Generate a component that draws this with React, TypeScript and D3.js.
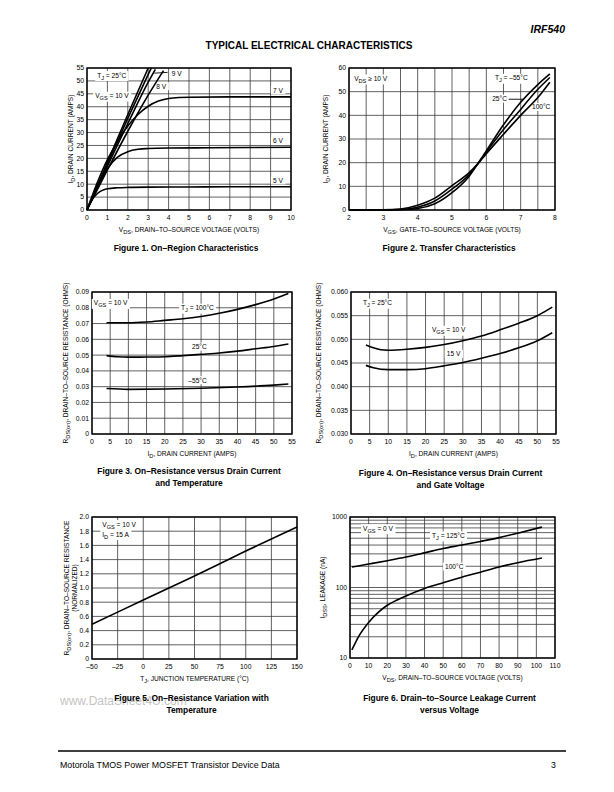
import React, { useRef, useState, useLayoutEffect } from 'react';
import * as d3 from 'd3';

const FONT = "'Liberation Sans', Arial, Helvetica, sans-serif";

// ---------- Figure 1: On-Region Characteristics (VDS volts, ID amps)
const f1Vgs5 = [[0,0],[0.25,4],[0.5,6.3],[0.75,7.6],[1,8.2],[1.5,8.6],[2,8.75],[3,8.85],[5,8.9],[7,9],[10,9]];
const f1Vgs6 = [[0,0],[0.5,9],[1,16],[1.5,20.5],[2,22.6],[2.5,23.5],[3,23.8],[4,24],[6,24.1],[10,24.3]];
const f1Vgs7 = [[0,0],[0.5,10.5],[1,19.5],[1.5,26.5],[2,32.5],[2.5,37],[3,40.2],[3.5,42.2],[4,43.2],[4.5,43.6],[5,43.7],[7,43.8],[10,43.8]];
const f1Vgs8 = [[0,0],[1,15.5],[2,30.5],[3,44.5],[3.75,54]];
const f1Vgs9 = [[0,0],[1,17],[2,33.5],[3,49.5],[3.35,54.5]];
const f1Vgs9b = [[0,0],[1,17.8],[2,35.5],[3,52.5],[3.15,55]];
const f1Vgs10 = [[0,0],[1,18.5],[2,37],[3,55]];
const f1Leader9 = [[3.3,53],[3.95,53.3]];

// ---------- Figure 2: Transfer Characteristics (VGS volts, ID amps)
const f2TjM55 = [[2,0],[3,0],[3.5,0.1],[4,0.6],[4.5,2.6],[5,7.3],[5.5,14.3],[5.75,19.5],[6,25],[6.5,36],[7,45.5],[7.5,53],[7.85,57.5]];
const f2Tj25 = [[2,0],[3,0],[3.5,0.2],[4,1.2],[4.5,3.8],[5,8.8],[5.5,15],[5.75,19.5],[6,24.5],[6.5,34],[7,42.5],[7.5,51],[7.85,56]];
const f2Tj100 = [[2,0],[3,0.05],[3.5,0.4],[4,2],[4.5,5],[5,10.3],[5.5,15.8],[5.75,19.5],[6,23.8],[6.5,32],[7,40],[7.5,47.5],[7.85,54]];
const f2Leader25 = [[6.65,46.8],[7.08,46.8]];

// ---------- Figure 3: RDS(on) vs ID and temperature
const f3Tj100 = [[4,0.0705],[10,0.0705],[15,0.071],[20,0.072],[25,0.073],[30,0.0745],[35,0.0765],[40,0.079],[45,0.082],[50,0.0855],[54,0.089]];
const f3Tj25 = [[4,0.0497],[7,0.049],[10,0.0487],[15,0.0488],[20,0.049],[25,0.0497],[30,0.0505],[35,0.0513],[40,0.0525],[45,0.054],[50,0.0555],[54,0.057]];
const f3TjM55 = [[4,0.0288],[10,0.0283],[20,0.0285],[30,0.029],[40,0.0298],[50,0.031],[54,0.0317]];

// ---------- Figure 4: RDS(on) vs ID and gate voltage
const f4Vgs10 = [[4,0.0488],[6,0.0482],[8,0.0478],[10,0.0477],[15,0.0479],[20,0.0483],[25,0.0489],[30,0.0497],[35,0.0507],[40,0.052],[45,0.0534],[50,0.055],[54,0.0568]];
const f4Vgs15 = [[4,0.0445],[6,0.044],[10,0.0436],[15,0.0436],[20,0.0438],[25,0.0444],[30,0.0451],[35,0.046],[40,0.047],[45,0.0482],[50,0.0497],[54,0.0514]];

// ---------- Figure 5: normalized RDS(on) vs TJ
const f5Line = [[-50,0.49],[0,0.83],[25,1.0],[50,1.17],[100,1.52],[150,1.86]];

// ---------- Figure 6: IDSS leakage vs VDS
const f6Tj125 = [[1,195],[10,215],[20,240],[30,270],[40,310],[50,358],[60,400],[70,450],[80,510],[90,590],[103,720]];
const f6Tj100 = [[1,13],[5,21],[10,32],[15,44],[20,56],[25,66],[30,76],[40,97],[50,117],[60,140],[70,165],[80,195],[90,225],[103,262]];

// ---------- tick labels
const f1XTicks = [0,1,2,3,4,5,6,7,8,9,10];
const f1YTicks = [0,5,10,15,20,25,30,35,40,45,50,55];
const f2XTicks = [2,3,4,5,6,7,8];
const f2XGrid = [2,2.5,3,3.5,4,4.5,5,5.5,6,6.5,7,7.5,8];
const f2YTicks = [0,10,20,30,40,50,60];
const f3XTicks = [0,5,10,15,20,25,30,35,40,45,50,55];
const f3YTicks = [0,0.01,0.02,0.03,0.04,0.05,0.06,0.07,0.08,0.09];
const f4YTicks = [0.03,0.035,0.04,0.045,0.05,0.055,0.06];
const f5XTicks = [-50,-25,0,25,50,75,100,125,150];
const f5YTicks = [0,0.2,0.4,0.6,0.8,1.0,1.2,1.4,1.6,1.8,2.0];
const f6XTicks = [0,10,20,30,40,50,60,70,80,90,100,110];
const f6YTicks = [10,100,1000];
const f6YGrid = [10,20,30,40,50,60,70,80,90,100,200,300,400,500,600,700,800,900,1000];

function rich(s: string, size: number) {
  const parts = s.split(/(_\{[^}]*\})/);
  const out: any[] = [];
  let shifted = false;
  const d = size * 0.3;
  parts.forEach((p, i) => {
    if (!p) return;
    if (p.startsWith('_{')) {
      out.push(<tspan key={i} dy={d} fontSize={size * 0.85}>{p.slice(2, -1)}</tspan>);
      shifted = true;
    } else {
      out.push(<tspan key={i} dy={shifted ? -d : undefined}>{p}</tspan>);
      shifted = false;
    }
  });
  return out;
}

function Label({ x, y, text, anchor = 'start', size = 7, bg = false, weight = 'normal', rotate = 0, fill = '#000', style = 'normal' }: any) {
  const ref = useRef<SVGTextElement>(null);
  const [bb, setBB] = useState<any>(null);
  useLayoutEffect(() => {
    if (bg && ref.current) {
      const b = ref.current.getBBox();
      setBB({ x: b.x, y: b.y, w: b.width, h: b.height });
    }
  }, [bg, x, y, text]);
  const tr = rotate ? `rotate(${rotate},${x},${y})` : undefined;
  return (
    <g transform={tr}>
      {bg && bb && <rect x={bb.x - 2} y={bb.y - 0.5} width={bb.w + 4} height={bb.h + 1} fill="white" />}
      <text ref={ref} x={x} y={y} textAnchor={anchor} fontSize={size} fontWeight={weight} fontStyle={style} fill={fill} fontFamily={FONT}>
        {rich(text, size)}
      </text>
    </g>
  );
}

type Ann = { x: number; y: number; t: string; a?: string; bg?: boolean };

function Panel(p: any) {
  const x = d3.scaleLinear().domain(p.xDom).range([p.x0, p.x1]);
  const y = (p.yLog ? d3.scaleLog() : d3.scaleLinear()).domain(p.yDom).range([p.y1, p.y0]);
  const line = d3.line<number[]>().x(d => x(d[0])).y(d => y(d[1])).curve(d3.curveMonotoneX);
  const straight = d3.line<number[]>().x(d => x(d[0])).y(d => y(d[1]));
  const cx = (p.x0 + p.x1) / 2;
  const cy = (p.y0 + p.y1) / 2;
  return (
    <g>
      {(p.xGrid || p.xTicks).map((v: number, i: number) => (
        <line key={'xg' + i} x1={x(v)} x2={x(v)} y1={p.y0} y2={p.y1} stroke="#3a3a3a" strokeWidth={0.8} />
      ))}
      {(p.yGrid || p.yTicks).map((v: number, i: number) => (
        <line key={'yg' + i} x1={p.x0} x2={p.x1} y1={y(v)} y2={y(v)} stroke="#3a3a3a" strokeWidth={0.8} />
      ))}
      <rect x={p.x0} y={p.y0} width={p.x1 - p.x0} height={p.y1 - p.y0} fill="none" stroke="#000" strokeWidth={1.4} />
      {p.anns.filter((a: Ann) => a.bg).map((a: Ann, i: number) => (
        <Label key={'ab' + i} x={x(a.x)} y={y(a.y)} text={a.t} anchor={a.a || 'start'} size={6.6} bg={true} fill="white" />
      ))}
      {p.series.map((s: number[][], i: number) => (
        <path key={'s' + i} d={line(s) || ''} fill="none" stroke="#000" strokeWidth={1.6} />
      ))}
      {(p.leaders || []).map((s: number[][], i: number) => (
        <path key={'l' + i} d={straight(s) || ''} fill="none" stroke="#000" strokeWidth={0.9} />
      ))}
      {p.anns.map((a: Ann, i: number) => (
        <Label key={'a' + i} x={x(a.x)} y={y(a.y)} text={a.t} anchor={a.a || 'start'} size={6.6} />
      ))}
      {p.xTicks.map((v: number, i: number) => (
        <text key={'xt' + i} x={x(v)} y={p.y1 + 10} textAnchor="middle" fontSize={6.8} fontFamily={FONT}>{p.xFmt(v)}</text>
      ))}
      {p.yTicks.map((v: number, i: number) => (
        <text key={'yt' + i} x={p.x0 - 3} y={y(v) + 2.4} textAnchor="end" fontSize={6.8} fontFamily={FONT}>{p.yFmt(v)}</text>
      ))}
      <Label x={cx} y={p.y1 + 22} text={p.xTitle} anchor="middle" size={6.6} />
      {p.yTitle.map((t: string, i: number) => (
        <Label key={'yti' + i} x={p.yTitleX + i * 8} y={p.yTitleY || cy} text={t} anchor="middle" size={6.6} rotate={-90} />
      ))}
      {p.caption.map((t: string, i: number) => (
        <text key={'c' + i} x={cx - 3} y={p.capY + i * 11.5} textAnchor="middle" fontSize={8.4} fontWeight="bold" fontFamily={FONT}>{t}</text>
      ))}
    </g>
  );
}

const intFmt = (v: number) => String(v);

export default function App() {
  return (
    <svg width={614} height={792} style={{ position: 'absolute', left: 0, top: 0, background: '#fff' }}>
      <rect x={0} y={0} width={614} height={792} fill="#fff" />
      <text x={565} y={33} textAnchor="end" fontSize={10.5} fontWeight="bold" fontStyle="italic" fontFamily={FONT}>IRF540</text>
      <text x={309} y={48.5} textAnchor="middle" fontSize={10} fontWeight="bold" fontFamily={FONT}>TYPICAL ELECTRICAL CHARACTERISTICS</text>

      <Panel
        x0={87} x1={291} y0={68} y1={210} xDom={[0, 10]} yDom={[0, 55]}
        xTicks={f1XTicks} yTicks={f1YTicks} xFmt={intFmt} yFmt={intFmt}
        series={[f1Vgs5, f1Vgs6, f1Vgs7, f1Vgs8, f1Vgs9, f1Vgs9b, f1Vgs10]}
        leaders={[f1Leader9]}
        anns={[
          { x: 0.5, y: 51.3, t: 'T_{J} = 25°C', bg: true },
          { x: 0.4, y: 43.3, t: 'V_{GS} = 10 V', bg: true },
          { x: 4.15, y: 52, t: '9 V', bg: true },
          { x: 3.4, y: 47, t: '8 V', bg: true },
          { x: 9.6, y: 45.5, t: '7 V', a: 'end', bg: true },
          { x: 9.6, y: 25.8, t: '6 V', a: 'end', bg: true },
          { x: 9.6, y: 10.5, t: '5 V', a: 'end', bg: true },
        ]}
        xTitle="V_{DS}, DRAIN–TO–SOURCE VOLTAGE (VOLTS)"
        yTitle={['I_{D}, DRAIN CURRENT (AMPS)']} yTitleX={73}
        caption={['Figure 1. On–Region Characteristics']} capY={251}
      />

      <Panel
        x0={349} x1={555} y0={68} y1={210} xDom={[2, 8]} yDom={[0, 60]}
        xTicks={f2XTicks} xGrid={f2XGrid} yTicks={f2YTicks} xFmt={intFmt} yFmt={intFmt}
        series={[f2TjM55, f2Tj25, f2Tj100]}
        leaders={[f2Leader25]}
        anns={[
          { x: 2.15, y: 54.5, t: 'V_{DS} ≥ 10 V', bg: true },
          { x: 6.25, y: 54.8, t: 'T_{J} = –55°C', bg: true },
          { x: 6.17, y: 46, t: '25°C', bg: true },
          { x: 7.33, y: 42.5, t: '100°C', bg: true },
        ]}
        xTitle="V_{GS}, GATE–TO–SOURCE VOLTAGE (VOLTS)"
        yTitle={['I_{D}, DRAIN CURRENT (AMPS)']} yTitleX={328}
        caption={['Figure 2. Transfer Characteristics']} capY={251}
      />

      <Panel
        x0={92} x1={292} y0={292} y1={434} xDom={[0, 55]} yDom={[0, 0.09]}
        xTicks={f3XTicks} yTicks={f3YTicks} xFmt={intFmt} yFmt={(v: number) => (v === 0 ? '0' : v.toFixed(2))}
        series={[f3Tj100, f3Tj25, f3TjM55]}
        anns={[
          { x: 0.5, y: 0.0815, t: 'V_{GS} = 10 V', bg: true },
          { x: 24.5, y: 0.0785, t: 'T_{J} = 100°C', bg: true },
          { x: 27.5, y: 0.0538, t: '25°C', bg: true },
          { x: 26.5, y: 0.0325, t: '–55°C', bg: true },
        ]}
        xTitle="I_{D}, DRAIN CURRENT (AMPS)"
        yTitle={['R_{DS(on)}, DRAIN–TO–SOURCE RESISTANCE (OHMS)']} yTitleX={68}
        caption={['Figure 3. On–Resistance versus Drain Current', 'and Temperature']} capY={474}
      />

      <Panel
        x0={351} x1={556} y0={292} y1={434} xDom={[0, 55]} yDom={[0.03, 0.06]}
        xTicks={f3XTicks} yTicks={f4YTicks} xFmt={intFmt} yFmt={(v: number) => v.toFixed(3)}
        series={[f4Vgs10, f4Vgs15]}
        anns={[
          { x: 3.2, y: 0.0572, t: 'T_{J} = 25°C', bg: true },
          { x: 21.7, y: 0.0515, t: 'V_{GS} = 10 V', bg: true },
          { x: 25.7, y: 0.0464, t: '15 V', bg: true },
        ]}
        xTitle="I_{D}, DRAIN CURRENT (AMPS)"
        yTitle={['R_{DS(on)}, DRAIN–TO–SOURCE RESISTANCE (OHMS)']} yTitleX={321}
        caption={['Figure 4. On–Resistance versus Drain Current', 'and Gate Voltage']} capY={476}
      />

      <text x={60} y={705} fontSize={12} fill="#c4c4c4" fontFamily={FONT}>www.DataSheet4U.com</text>
      <Panel
        x0={92} x1={297} y0={517} y1={659} xDom={[-50, 150]} yDom={[0, 2]}
        xTicks={f5XTicks} yTicks={f5YTicks} xFmt={(v: number) => (v < 0 ? '–' + Math.abs(v) : String(v))}
        yFmt={(v: number) => (v === 0 ? '0' : v.toFixed(1))}
        series={[f5Line]}
        anns={[
          { x: -40, y: 1.865, t: 'V_{GS} = 10 V', bg: true },
          { x: -40, y: 1.725, t: 'I_{D} = 15 A', bg: true },
        ]}
        xTitle="T_{J}, JUNCTION TEMPERATURE (°C)"
        yTitle={['R_{DS(on)}, DRAIN–TO–SOURCE RESISTANCE', '(NORMALIZED)']} yTitleX={69}
        caption={['Figure 5. On–Resistance Variation with', 'Temperature']} capY={701}
      />

      <Panel
        x0={350} x1={555} y0={517} y1={658} xDom={[0, 110]} yDom={[10, 1000]} yLog={true}
        xTicks={f6XTicks} yTicks={f6YTicks} yGrid={f6YGrid} xFmt={intFmt} yFmt={intFmt}
        series={[f6Tj125, f6Tj100]}
        anns={[
          { x: 7, y: 640, t: 'V_{GS} = 0 V', bg: true },
          { x: 44, y: 505, t: 'T_{J} = 125°C', bg: true },
          { x: 51, y: 183, t: '100°C', bg: true },
        ]}
        xTitle="V_{DS}, DRAIN–TO–SOURCE VOLTAGE (VOLTS)"
        yTitle={['I_{DSS}, LEAKAGE (nA)']} yTitleX={325}
        caption={['Figure 6. Drain–to–Source Leakage Current', 'versus Voltage']} capY={701}
      />

      <line x1={58} x2={566} y1={751} y2={751} stroke="#000" strokeWidth={1.5} />
      <text x={60} y={768} fontSize={8.8} fontFamily={FONT}>Motorola TMOS Power MOSFET Transistor Device Data</text>
      <text x={556} y={768} textAnchor="end" fontSize={8.8} fontFamily={FONT}>3</text>
    </svg>
  );
}
